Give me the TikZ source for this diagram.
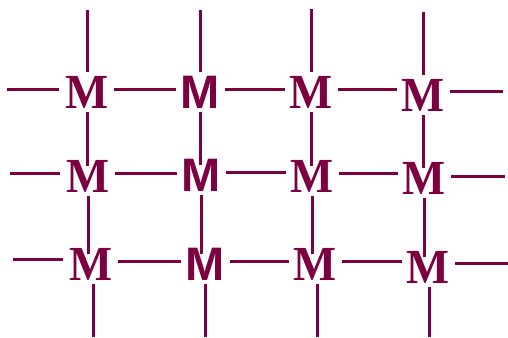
\documentclass[tikz,border=0pt]{standalone}
\usepackage{fontspec}
\setmainfont{Liberation Serif}
\newfontfamily\msans[BoldFont={Liberation Sans Bold}]{Liberation Sans}
\definecolor{maroon}{RGB}{125,0,64}
\newcommand{\sansM}{{\msans\bfseries M}}
\begin{document}
\begin{tikzpicture}[x=1pt,y=-1pt,
  mser/.style={inner sep=0pt,text=maroon,font=\fontsize{49}{49}\selectfont\bfseries,xscale=0.93},
  msan/.style={inner sep=0pt,text=maroon,font=\fontsize{47}{47}\selectfont},
  bond/.style={draw=maroon,line width=3pt}]
\useasboundingbox (0,0) rectangle (508,337);
% row 1
\node[mser] (a1) at (87,92) {M};
\node[msan] (b1) at (200,92) {\sansM};
\node[mser] (c1) at (311,92) {M};
\node[mser] (d1) at (423,95) {M};
% row 2
\node[mser] (a2) at (88,176) {M};
\node[msan] (b2) at (201,175) {\sansM};
\node[mser] (c2) at (312,176) {M};
\node[mser] (d2) at (424,178) {M};
% row 3
\node[mser] (a3) at (91,264) {M};
\node[msan] (b3) at (205,264) {\sansM};
\node[mser] (c3) at (315,264) {M};
\node[mser] (d3) at (428,267) {M};
% free ends
\coordinate (ta) at (87,10);  \coordinate (tb) at (200,10);
\coordinate (tc) at (311,9);  \coordinate (td) at (423,12);
\coordinate (la1) at (7,89);  \coordinate (la2) at (10,173); \coordinate (la3) at (13,259);
\coordinate (ra1) at (503,91); \coordinate (ra2) at (505,176); \coordinate (ra3) at (508,263);
\coordinate (ba) at (93,337); \coordinate (bb) at (205,337);
\coordinate (bc) at (317,337); \coordinate (bd) at (429,337);
% top
\foreach \c in {a,b,c,d}{
  \draw[bond,shorten >=4pt] (t\c) -- (t\c |- \c1.north);
}
% left / right ends
\foreach \r in {1,2,3}{
  \draw[bond,shorten >=6pt] (la\r) -- (la\r -| a\r.west);
  \draw[bond,shorten >=5pt] (ra\r) -- (ra\r -| d\r.east);
}
% horizontal bonds
\foreach \r/\s in {a/b,b/c,c/d}{
  \foreach \k in {1,2,3}{
    \draw[bond,shorten <=5pt,shorten >=4pt] ([yshift=3pt]\r\k.east) -- ([yshift=3pt]\r\k.east -| \s\k.west);
  }
}
% vertical bonds
\foreach \c in {a,b,c,d}{
  \draw[bond,shorten <=4pt,shorten >=-6pt] (\c1.south) -- (\c1.south |- \c2.north);
  \draw[bond,shorten <=4pt,shorten >=-6pt] (\c2.south) -- (\c2.south |- \c3.north);
  \draw[bond,shorten >=4pt] (b\c) -- (b\c |- \c3.south);
}
\end{tikzpicture}
\end{document}
